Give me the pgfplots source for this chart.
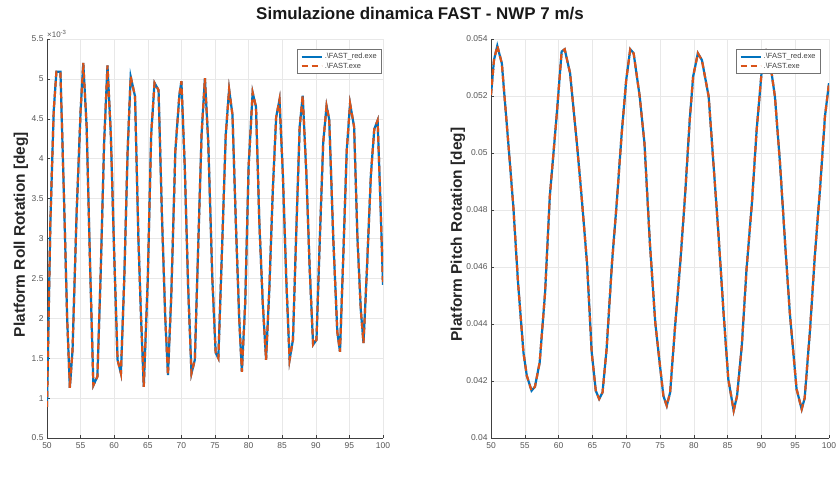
\documentclass[border=0pt]{standalone}
\usepackage{pgfplots}
\pgfplotsset{compat=1.18}
\usepackage{fontspec}
\setmainfont{Liberation Sans}

\definecolor{mblue}{HTML}{0072BD}
\definecolor{morange}{HTML}{D95319}
\definecolor{axcol}{HTML}{404040}
\definecolor{tickcol}{HTML}{555555}

% Roll rotation [deg]
\pgfplotstableread{
t y
50.0 0.89e-3
50.5 3.20e-3
51.0 4.60e-3
51.4 5.09e-3
52.0 5.09e-3
52.5 3.60e-3
53.0 2.00e-3
53.4 1.13e-3
53.8 1.60e-3
54.4 3.30e-3
55.0 4.60e-3
55.4 5.20e-3
55.9 4.40e-3
56.4 2.70e-3
56.9 1.16e-3
57.5 1.27e-3
58.0 2.60e-3
58.5 4.20e-3
59.0 5.17e-3
59.5 4.30e-3
60.0 2.80e-3
60.5 1.48e-3
61.0 1.31e-3
61.5 2.50e-3
62.0 4.10e-3
62.45 5.03e-3
63.1 4.78e-3
63.6 3.00e-3
64.0 2.00e-3
64.4 1.14e-3
65.0 2.50e-3
65.5 4.30e-3
66.0 4.95e-3
66.6 4.86e-3
67.1 3.30e-3
67.6 2.00e-3
68.0 1.29e-3
68.5 2.30e-3
69.1 4.10e-3
69.7 4.80e-3
70.0 4.97e-3
70.5 3.90e-3
71.0 2.40e-3
71.5 1.31e-3
72.0 1.48e-3
72.5 2.90e-3
73.0 4.30e-3
73.5 5.01e-3
74.0 4.20e-3
74.6 2.50e-3
75.1 1.57e-3
75.5 1.50e-3
76.1 3.00e-3
76.6 4.30e-3
77.1 4.87e-3
77.6 4.55e-3
78.1 3.20e-3
78.6 2.00e-3
79.0 1.33e-3
79.5 2.20e-3
80.0 3.90e-3
80.6 4.83e-3
81.1 4.65e-3
81.6 3.20e-3
82.1 2.20e-3
82.6 1.48e-3
83.1 2.40e-3
83.6 3.60e-3
84.1 4.52e-3
84.6 4.74e-3
85.1 3.80e-3
85.6 2.50e-3
86.1 1.48e-3
86.6 1.73e-3
87.1 3.10e-3
87.6 4.40e-3
88.05 4.79e-3
88.6 3.80e-3
89.1 2.60e-3
89.6 1.67e-3
90.1 1.73e-3
90.6 3.00e-3
91.1 4.20e-3
91.6 4.66e-3
92.0 4.49e-3
92.6 3.00e-3
93.2 1.83e-3
93.6 1.58e-3
94.1 2.80e-3
94.6 4.10e-3
95.1 4.69e-3
95.7 4.40e-3
96.2 3.00e-3
96.7 2.10e-3
97.1 1.69e-3
97.6 2.60e-3
98.2 3.80e-3
98.7 4.37e-3
99.2 4.48e-3
99.6 3.50e-3
100.0 2.42e-3
}\rolldata

% Pitch rotation [deg]
\pgfplotstableread{
t y
50.0 0.05204
50.44 0.05326
50.93 0.05376
51.6 0.05315
52.6 0.05023
53.3 0.04813
54.0 0.04545
54.8 0.04300
55.3 0.04218
56.0 0.04166
56.5 0.04180
57.2 0.04265
58.0 0.04510
58.7 0.04848
59.7 0.05128
60.45 0.05356
60.9 0.05364
61.7 0.05280
62.7 0.05035
63.4 0.04848
64.2 0.04615
64.9 0.04300
65.5 0.04166
66.0 0.04137
66.5 0.04160
67.1 0.04312
67.9 0.04615
68.6 0.04825
69.3 0.05058
70.0 0.05256
70.6 0.05364
71.1 0.05350
72.0 0.05198
72.7 0.05035
73.5 0.04685
74.3 0.04405
75.0 0.04253
75.5 0.04148
76.0 0.04113
76.5 0.04160
77.2 0.04382
78.0 0.04615
78.7 0.04848
79.4 0.05117
79.9 0.05268
80.6 0.05350
81.2 0.05326
82.2 0.05198
82.9 0.04965
83.6 0.04732
84.4 0.04440
85.1 0.04207
85.9 0.04096
86.4 0.04148
87.1 0.04323
87.8 0.04592
88.6 0.04825
89.3 0.05082
90.1 0.05303
90.7 0.05355
91.3 0.05315
92.0 0.05198
92.75 0.04965
93.5 0.04685
94.2 0.04440
95.2 0.04172
95.96 0.04101
96.4 0.04140
97.2 0.04382
97.9 0.04638
98.7 0.04883
99.4 0.05128
100.0 0.05245
}\pitchdata

\pgfplotsset{
  mstyle/.style={
    scale only axis,
    height=399bp,
    xmin=50, xmax=100,
    xtick={50,55,...,100},
    axis x line*=bottom,
    axis y line*=left,
    axis line style={-, color=axcol, line width=0.6bp},
    tick align=inside,
    major tick length=3bp,
    tick style={color=axcol, line width=0.5bp},
    grid=major,
    major grid style={color=black!9, line width=0.5bp},
    /pgf/number format/assume math mode=true,
    tick label style={font=\fontsize{8.5}{10}\selectfont, color=tickcol},
    xticklabel style={yshift=-1bp},
    label style={font=\fontsize{15.5}{18}\selectfont\bfseries, color=black!85},
    xlabel style={at={([yshift=-28bp]axis description cs:0.5,0)}, anchor=center},
    legend cell align=left,
    legend style={font=\fontsize{7.5}{9}\selectfont, draw=black!55, line width=0.5bp,
      inner xsep=3bp, inner ysep=2bp, row sep=-1.5bp, text=black!75},
    legend image code/.code={
      \draw[#1] (0cm,0cm) -- (20bp,0cm);
    },
  },
  bline/.style={color=mblue, line width=2.2bp},
  oline/.style={color=morange, line width=2.2bp, dash pattern=on 6bp off 4bp},
}

\begin{document}
\begin{tikzpicture}
\useasboundingbox (0,0) rectangle (840bp,-481bp);

\node[font=\fontsize{17}{20}\selectfont\bfseries, color=black!90] at (420bp,-14bp)
  {Simulazione dinamica FAST - NWP 7 m/s};

\begin{axis}[mstyle,
  at={(47bp,-438bp)}, anchor=south west,
  width=336bp,
  ymin=0.5e-3, ymax=5.5e-3,
  ytick={0.5e-3,1e-3,1.5e-3,2e-3,2.5e-3,3e-3,3.5e-3,4e-3,4.5e-3,5e-3,5.5e-3},
  scaled y ticks=base 10:3,
  ytick scale label code/.code={×10\textsuperscript{-3}},
  every y tick scale label/.style={at={(rel axis cs:0,1)}, anchor=south west,
    inner sep=1pt, xshift=-1bp, font=\fontsize{8}{9}\selectfont, color=tickcol},
  ylabel={Platform Roll Rotation [deg]},
  ylabel style={at={([xshift=-26bp,yshift=4bp]axis description cs:0,0.5)}, anchor=center},
  legend style={at={(rel axis cs:0.997,0.975)}, anchor=north east},
]
\addplot[bline] table[x=t, y=y] {\rolldata};
\addlegendentry{.\textbackslash FAST\_red.exe}
\addplot[oline] table[x=t, y=y] {\rolldata};
\addlegendentry{.\textbackslash FAST.exe}
\end{axis}

\begin{axis}[mstyle,
  at={(491bp,-438bp)}, anchor=south west,
  width=338bp,
  ymin=0.04, ymax=0.054,
  ytick={0.04,0.042,0.044,0.046,0.048,0.05,0.052,0.054},
  scaled y ticks=false,
  yticklabel style={/pgf/number format/fixed, /pgf/number format/precision=3},
  ylabel={Platform Pitch Rotation [deg]},
  ylabel style={at={([xshift=-33bp,yshift=4bp]axis description cs:0,0.5)}, anchor=center},
  legend style={at={(rel axis cs:0.976,0.975)}, anchor=north east},
]
\addplot[bline] table[x=t, y=y] {\pitchdata};
\addlegendentry{.\textbackslash FAST\_red.exe}
\addplot[oline] table[x=t, y=y] {\pitchdata};
\addlegendentry{.\textbackslash FAST.exe}
\end{axis}
\end{tikzpicture}
\end{document}
